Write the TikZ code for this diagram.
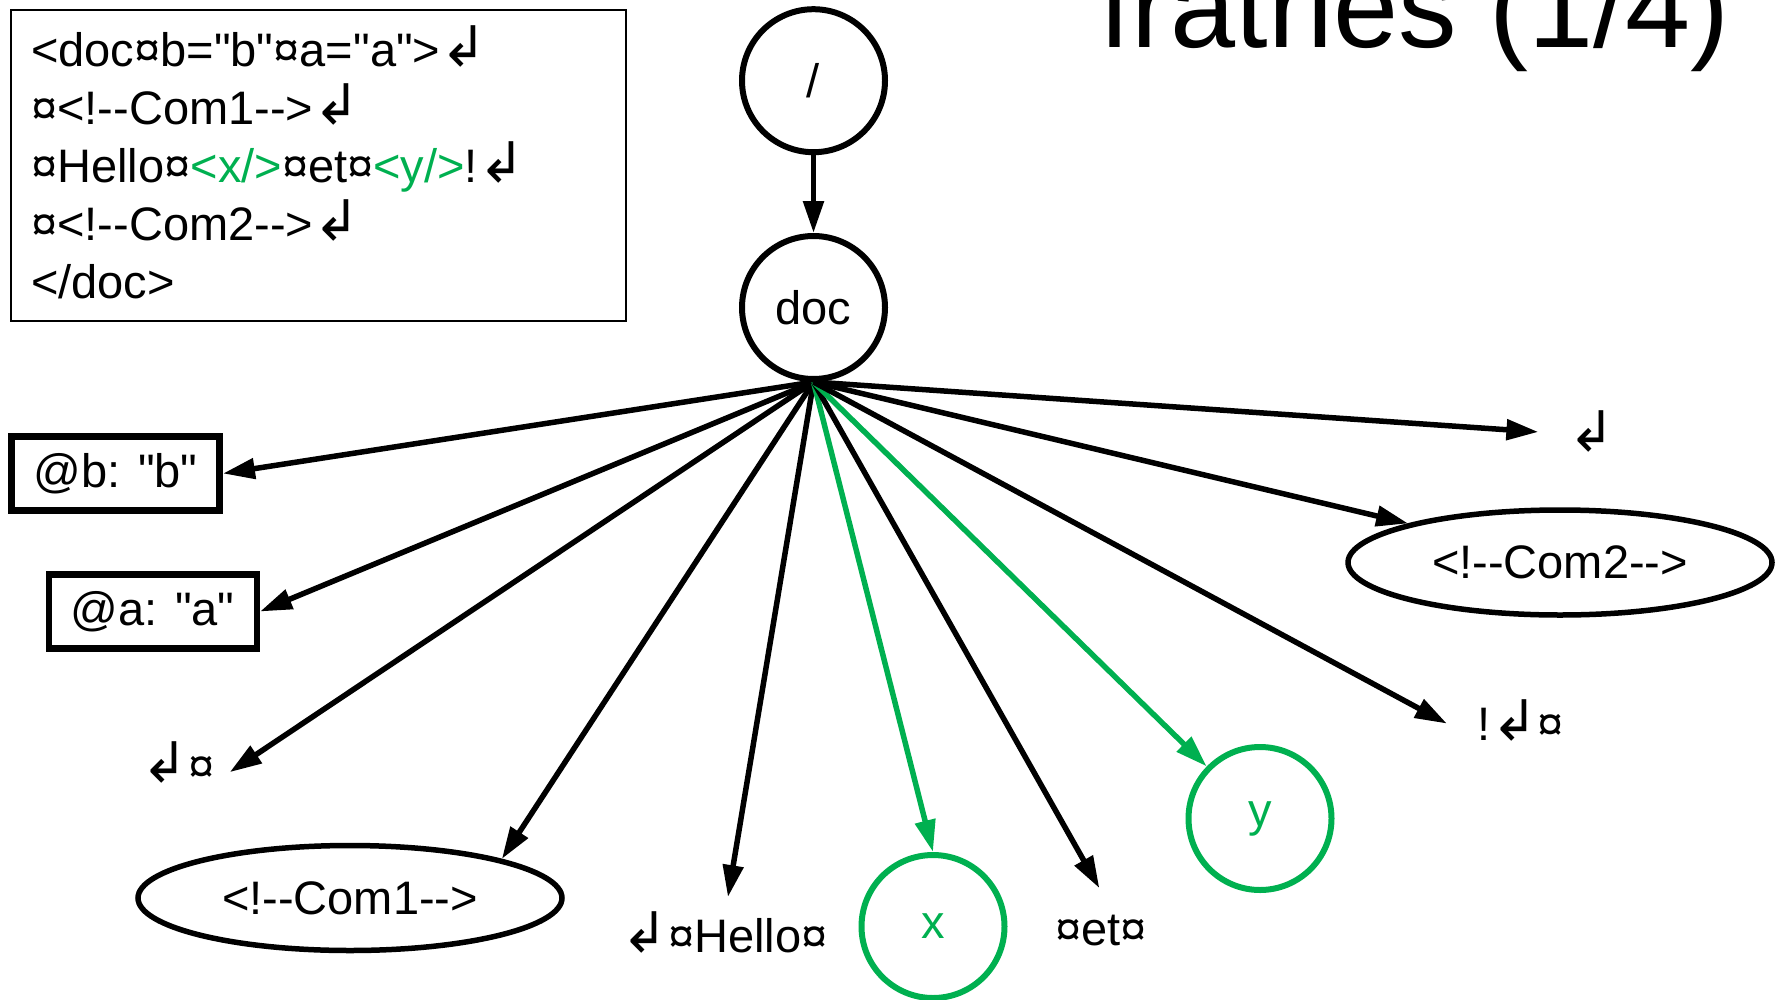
\documentclass[tikz,border=0pt]{standalone}
\usepackage{fontspec}
\setmainfont{Liberation Sans}[Ligatures=TeXOff]
\newfontfamily\arrowfont{DejaVu Sans}
\usetikzlibrary{arrows.meta,shapes.geometric}
\definecolor{tagGreen}{RGB}{0,176,80}
% line-break symbol
\newcommand{\retsym}{{\arrowfont\fontsize{56}{56}\selectfont ↲}}
\begin{document}
\begin{tikzpicture}[x=1pt,y=-1pt,
  every node/.style={font=\fontsize{47}{56}\selectfont},
  circ/.style={circle, draw, line width=6pt, minimum size=143pt, inner sep=0pt},
  oval/.style={ellipse, draw, line width=5.5pt, minimum width=424pt, minimum height=105pt, inner sep=0pt},
  attr/.style={rectangle, draw, line width=6.5pt, minimum width=208pt, minimum height=74pt, inner sep=0pt},
  txt/.style={inner sep=0pt, text height=34pt, text depth=0pt},
  codeline/.style={anchor=base west, inner sep=0pt},
  link/.style={line width=5.5pt, -{Triangle[length=32pt,width=20pt]}},
  glink/.style={link, draw=tagGreen, fill=tagGreen}
]
\useasboundingbox (0,0) rectangle (1789,999);

% title, partly above the page
\node[anchor=base west, inner sep=0pt, font=\fontsize{117}{125}\selectfont] (title) at (1099,47) {fratries (1/4)};

% source document
\node[draw, line width=2pt, anchor=north west, minimum width=615pt, minimum height=311pt, inner sep=0pt] (src) at (10,9) {};
\node[codeline] (l1) at (31,66) {<doc¤b="b"¤a="a">\retsym};
\node[codeline] (l2) at (31,124) {¤<!--Com1-->\retsym};
\node[codeline] (l3) at (31,182) {¤Hello¤\textcolor{tagGreen}{<x/>}¤et¤\textcolor{tagGreen}{<y/>}!\retsym};
\node[codeline] (l4) at (31,240) {¤<!--Com2-->\retsym};
\node[codeline] (l5) at (31,298) {</doc>};

% tree
\node[circ] (root) at (813.5,80.7) {/};
\node[circ] (doc) at (813.5,307.5) {doc};

\node[attr] (atb) at (115.7,473.5) {@b: "b"};
\node[attr] (ata) at (152.8,611.5) {@a: "a"};
\node[txt] (t5) at (178,765) {\retsym¤};
\node[oval] (com1) at (350,898) {<!--Com1-->};
\node[txt] (t4) at (724.5,935) {\retsym¤Hello¤};
\node[circ, tagGreen] (x) at (933,926.5) {x};
\node[txt] (t3) at (1101,928) {¤et¤};
\node[circ, tagGreen] (y) at (1260,818.5) {y};
\node[txt] (t2) at (1521,723) {!\retsym¤};
\node[oval] (com2) at (1560,562.5) {<!--Com2-->};
\node[txt] (t1) at (1592,434) {\retsym};

% connectors
\draw[link] (root) -- (doc);
\draw[link] (doc.south) -- (atb.east);
\draw[link] (doc.south) -- (ata.east);
\draw[link, shorten >=18pt] (doc.south) -- (t5.south east);
\draw[link] (doc.south) -- (com1.north east);
\draw[link, shorten >=21pt] (doc.south) -- (t4.north);
\draw[glink] (doc.south) -- (x.north);
\draw[link, shorten >=26pt] (doc.south) -- (t3.57);
\draw[glink] (doc.south) -- (y);
\draw[link, shorten >=35pt] (doc.south) -- (t2.south west);
\draw[link] (doc.south) -- (com2.north west);
\draw[link, shorten >=30pt] (doc.south) -- (t1.west);
\end{tikzpicture}
\end{document}
